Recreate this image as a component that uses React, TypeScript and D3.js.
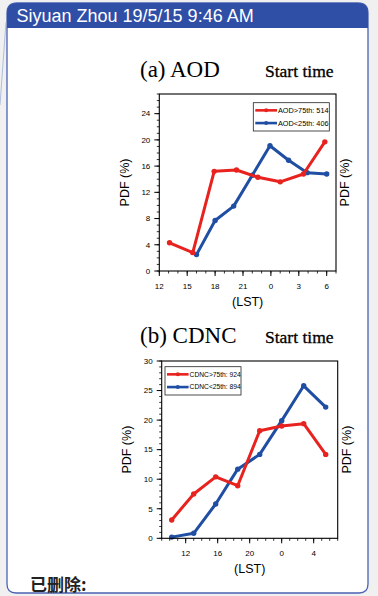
import React from 'react';
import * as d3 from 'd3';

const headerText = 'Siyuan Zhou 19/5/15 9:46 AM';
const deletedText = '已删除:';

const aodHighHours = [13.1, 15.6, 17.9, 20.3, 22.6, 25.0, 27.5, 29.8];
const aodHighPdf = [4.3, 2.8, 15.2, 15.4, 14.3, 13.6, 14.8, 19.7];
const aodLowHours = [16.0, 18.0, 20.0, 22.0, 23.9, 25.9, 27.9, 30.0];
const aodLowPdf = [2.5, 7.7, 9.9, 14.6, 19.1, 16.9, 15.0, 14.8];

const cdncHours = [10.25, 13.0, 15.75, 18.5, 21.25, 24.0, 26.75, 29.5];
const cdncHighPdf = [3.1, 7.5, 10.4, 8.9, 18.2, 19.0, 19.4, 14.2];
const cdncLowPdf = [0.2, 0.85, 5.8, 11.7, 14.2, 19.9, 25.8, 22.2];

const aodXTicks = [12, 15, 18, 21, 24, 27, 30];
const aodYTicks = [0, 4, 8, 12, 16, 20, 24];
const cdncXTicks = [12, 16, 20, 24, 28];
const cdncYTicks = [0, 5, 10, 15, 20, 25, 30];

const legendA = ['AOD>75th: 514', 'AOD<25th: 406'];
const legendB = ['CDNC>75th: 924', 'CDNC<25th: 894'];

const RED = '#e8231f';
const BLUE = '#1f4ea3';
const SANS = 'Liberation Sans, Arial, Helvetica, sans-serif';
const SERIF = 'Liberation Serif, Times New Roman, serif';

type Series = { xs: number[]; ys: number[]; color: string };

type PanelProps = {
  x0: number; x1: number; y0: number; y1: number;
  xDomain: [number, number]; yDomain: [number, number];
  xTicks: number[]; yTicks: number[];
  series: Series[];
  title: string; titleY: number;
  legend: string[];
  legBox: { x: number; y: number; w: number; h: number; lineW: number; font: number };
};

function Panel(p: PanelProps) {
  const xs = d3.scaleLinear().domain(p.xDomain).range([p.x0, p.x1]);
  const ys = d3.scaleLinear().domain(p.yDomain).range([p.y1, p.y0]);
  const minorX = d3.range(Math.ceil(p.xDomain[0]), Math.floor(p.xDomain[1]) + 1);
  const minorY = d3.range(p.yDomain[0], p.yDomain[1] + 1);
  const line = d3.line<[number, number]>().x(d => xs(d[0])).y(d => ys(d[1]));
  const cx = (p.x0 + p.x1) / 2;
  const cy = (p.y0 + p.y1) / 2;
  const lb = p.legBox;
  const lineColors = [RED, BLUE];
  return (
    <g>
      <text x={140} y={p.titleY} fontFamily={SERIF} fontSize={23} fill="#000">{p.title}</text>
      <text x={265} y={p.titleY} fontFamily={SERIF} fontSize={17.5} fill="#000" stroke="#000" strokeWidth={0.3}>Start time</text>
      {minorY.map(v => (
        <line key={'my' + v} x1={p.x0 - 2.5} x2={p.x0} y1={ys(v)} y2={ys(v)} stroke="#000" strokeWidth={0.8} />
      ))}
      {p.yTicks.map(v => (
        <g key={'y' + v}>
          <line x1={p.x0 - 5} x2={p.x0} y1={ys(v)} y2={ys(v)} stroke="#000" strokeWidth={1} />
          <text x={p.x0 - 9} y={ys(v)} dy="0.35em" textAnchor="end" fontFamily={SANS} fontSize={8}>{v}</text>
        </g>
      ))}
      {minorX.map(v => (
        <line key={'mx' + v} x1={xs(v)} x2={xs(v)} y1={p.y1} y2={p.y1 + 2.5} stroke="#000" strokeWidth={0.8} />
      ))}
      {p.xTicks.map(v => (
        <g key={'x' + v}>
          <line x1={xs(v)} x2={xs(v)} y1={p.y1} y2={p.y1 + 5} stroke="#000" strokeWidth={1} />
          <text x={xs(v)} y={p.y1 + 17.5} textAnchor="middle" fontFamily={SANS} fontSize={8}>{v % 24}</text>
        </g>
      ))}
      <text x={cx} y={p.y1 + 35} textAnchor="middle" fontFamily={SANS} fontSize={12.5}>(LST)</text>
      <text transform={`translate(${p.x0 - 35},${cy}) rotate(-90)`} textAnchor="middle" dy="0.35em" fontFamily={SANS} fontSize={12.5}>PDF (%)</text>
      <text transform={`translate(${p.x1 + 9},${cy}) rotate(-90)`} textAnchor="middle" dy="0.35em" fontFamily={SANS} fontSize={12.5}>PDF (%)</text>
      {[...p.series].reverse().map((s, i) => {
        const pts = s.xs.map((x, j) => [x, s.ys[j]] as [number, number]);
        return (
          <g key={'s' + i}>
            <path d={line(pts) || ''} fill="none" stroke={s.color} strokeWidth={3} strokeLinejoin="round" />
            {pts.map((d, j) => (
              <circle key={j} cx={xs(d[0])} cy={ys(d[1])} r={2.7} fill={s.color} />
            ))}
          </g>
        );
      })}
      <rect x={p.x0} y={p.y0} width={p.x1 - p.x0} height={p.y1 - p.y0} fill="none" stroke="#000" strokeWidth={1.1} />
      <rect x={lb.x} y={lb.y} width={lb.w} height={lb.h} fill="#fff" stroke="#222" strokeWidth={0.8} />
      {p.legend.map((t, i) => {
        const yy = lb.y + lb.h * (i === 0 ? 0.27 : 0.72);
        return (
          <g key={'l' + i}>
            <line x1={lb.x + 2} x2={lb.x + 2 + lb.lineW} y1={yy} y2={yy} stroke={lineColors[i]} strokeWidth={2.6} />
            <circle cx={lb.x + 2 + lb.lineW / 2} cy={yy} r={2} fill={lineColors[i]} />
            <text x={lb.x + 3 + lb.lineW} y={yy} dy="0.35em" fontFamily={SANS} fontSize={lb.font} fill="#000">{t}</text>
          </g>
        );
      })}
    </g>
  );
}

export default function App() {
  return (
    <svg width={378} height={596} style={{ position: 'absolute', left: 0, top: 0 }} xmlns="http://www.w3.org/2000/svg">
      <rect x={0} y={0} width={378} height={596} fill="#f0f0f0" />
      <path d="M7,13 Q7,3 17,3 L358,3 Q368,3 368,13 L368,584 Q368,593 359,593 L16,593 Q7,593 7,584 Z" fill="#fff" stroke="#4a63b4" strokeWidth={1.3} />
      <path d="M7,13 Q7,3 17,3 L358,3 Q368,3 368,13 L368,28 L7,28 Z" fill="#2f4ea6" />
      <line x1={6} x2={0} y1={22} y2={105} stroke="#9fb0d8" strokeWidth={0.8} />
      <text x={16.5} y={21.7} fontFamily={SANS} fontSize={18} fill="#fff">{headerText}</text>
      <Panel
        x0={159.3} x1={336} y0={94} y1={271}
        xDomain={[12, 31]} yDomain={[0, 27]}
        xTicks={aodXTicks} yTicks={aodYTicks}
        series={[
          { xs: aodHighHours, ys: aodHighPdf, color: RED },
          { xs: aodLowHours, ys: aodLowPdf, color: BLUE },
        ]}
        title="(a) AOD" titleY={77}
        legend={legendA}
        legBox={{ x: 253.3, y: 102.7, w: 76, h: 28.3, lineW: 21.7, font: 7.3 }}
      />
      <Panel
        x0={161.7} x1={337.7} y0={361} y1={538.3}
        xDomain={[9, 31]} yDomain={[0, 30]}
        xTicks={cdncXTicks} yTicks={cdncYTicks}
        series={[
          { xs: cdncHours, ys: cdncHighPdf, color: RED },
          { xs: cdncHours, ys: cdncLowPdf, color: BLUE },
        ]}
        title="(b) CDNC" titleY={342.7}
        legend={legendB}
        legBox={{ x: 165, y: 366.7, w: 76, h: 28.3, lineW: 21.6, font: 6.7 }}
      />
      <text x={30} y={591} fontFamily="Noto Sans CJK SC, sans-serif" fontSize={17} fontWeight={700} fill="#222">{deletedText}</text>
    </svg>
  );
}
